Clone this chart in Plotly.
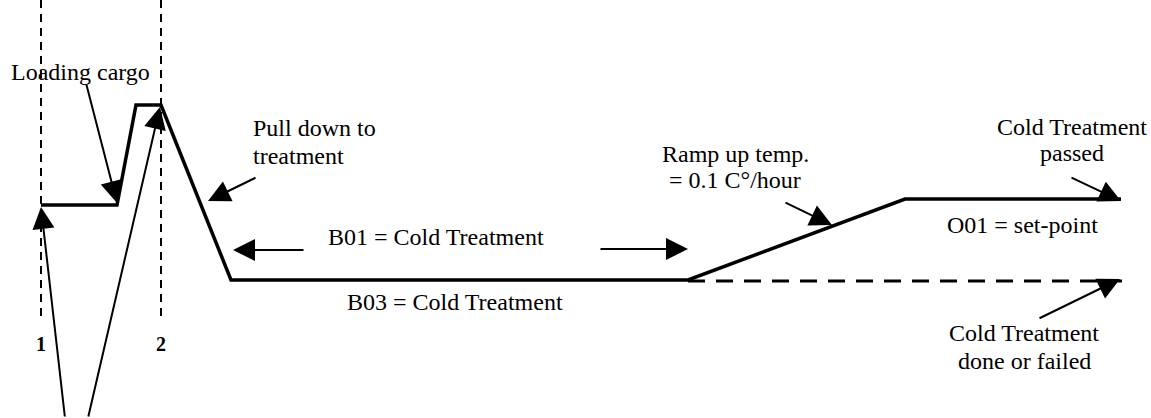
import plotly.graph_objects as go

# Temperature profile (time position, temperature level in diagram units; y grows downward)
profile_x = [41, 117, 136, 161, 231, 688, 905, 1121]
profile_y = [205, 205, 105, 105, 280, 280, 199, 199]

# Alternative end: stays at treatment temperature (dashed)
alt_x = [688, 1122]
alt_y = [281, 281]

# Event markers 1 and 2
marker_x = [41, 161]
marker_labels = ["1", "2"]
marker_top = 0
marker_bottom = 320
marker_label_y = 344

# Text labels
labels_text = ["Loading cargo", "Pull down to", "treatment", "B01 = Cold Treatment",
               "B03 = Cold Treatment", "Ramp up temp.", "= 0.1 C°/hour",
               "Cold Treatment", "passed", "O01 = set-point",
               "Cold Treatment", "done or failed"]
labels_x = [80, 251, 251, 435.5, 455, 735, 735, 1072, 1072, 1022, 1024, 1024]
labels_y = [72, 128, 156, 237, 302, 154, 180, 127, 153, 225, 333, 361]
labels_anchor = ["center", "left", "left", "center", "center", "center", "center",
                 "center", "center", "center", "center", "center"]

# Arrows: tail (ax, ay) -> tip (x, y)
arrow_tail_x = [86, 65, 88, 257, 305, 599, 784, 1070, 1038]
arrow_tail_y = [83, 418, 418, 177, 250, 249, 202, 177, 319]
arrow_tip_x = [117, 41, 160, 208, 233, 688, 832, 1121, 1120]
arrow_tip_y = [203, 207, 107, 201, 250, 249, 225, 201, 279]

FONT = "Liberation Serif, Times New Roman, serif"

fig = go.Figure()

for mx in marker_x:
    fig.add_trace(go.Scatter(x=[mx, mx], y=[marker_top, marker_bottom], mode="lines",
                             line=dict(color="black", width=2, dash="8px,6px"),
                             hoverinfo="skip", showlegend=False))

fig.add_trace(go.Scatter(x=alt_x, y=alt_y, mode="lines",
                         line=dict(color="black", width=3, dash="17px,11px"),
                         hoverinfo="skip", showlegend=False))

fig.add_trace(go.Scatter(x=profile_x, y=profile_y, mode="lines",
                         line=dict(color="black", width=3.5),
                         hoverinfo="skip", showlegend=False))

annotations = []
for t, x, y, a in zip(labels_text, labels_x, labels_y, labels_anchor):
    annotations.append(dict(x=x, y=y, xref="x", yref="y", text=t, showarrow=False,
                            xanchor=a, yanchor="middle",
                            font=dict(family=FONT, size=24, color="black")))

for lab, mx in zip(marker_labels, marker_x):
    annotations.append(dict(x=mx, y=marker_label_y, xref="x", yref="y",
                            text="<b>" + lab + "</b>", showarrow=False,
                            xanchor="center", yanchor="middle",
                            font=dict(family=FONT, size=20, color="black")))

for tx, ty, hx, hy in zip(arrow_tail_x, arrow_tail_y, arrow_tip_x, arrow_tip_y):
    annotations.append(dict(x=hx, y=hy, ax=tx, ay=ty, xref="x", yref="y",
                            axref="x", ayref="y", text="", showarrow=True,
                            arrowhead=2, arrowsize=2.2, arrowwidth=2,
                            arrowcolor="black", standoff=0, startstandoff=0))

fig.update_layout(
    width=1151, height=418,
    margin=dict(l=0, r=0, t=0, b=0),
    paper_bgcolor="white", plot_bgcolor="white",
    xaxis=dict(range=[0, 1151], visible=False, fixedrange=True),
    yaxis=dict(range=[418, 0], visible=False, fixedrange=True),
    annotations=annotations,
    showlegend=False,
)

fig.write_html("out.html", config={"displayModeBar": False},
               post_script="document.body.style.margin='0';document.body.style.padding='0';document.body.style.overflow='hidden';")
